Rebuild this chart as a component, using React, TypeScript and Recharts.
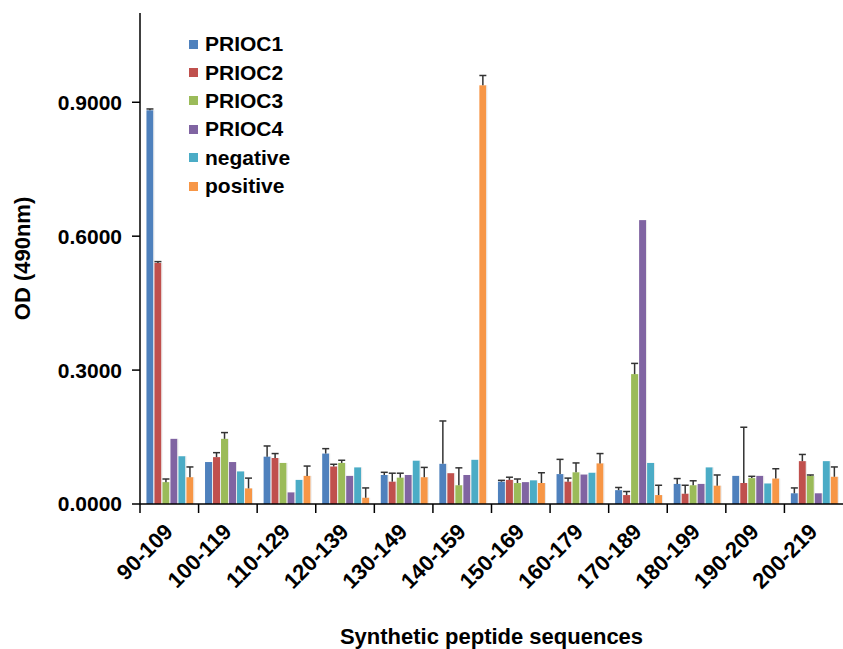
import { Bar, BarChart, Legend, XAxis, YAxis, Label } from "recharts";

const categories = ["90-109", "100-119", "110-129", "120-139", "130-149", "140-159", "150-169", "160-179", "170-189", "180-199", "190-209", "200-219"];

const prioc1 = [0.882, 0.094, 0.106, 0.113, 0.065, 0.09, 0.05, 0.067, 0.031, 0.045, 0.063, 0.024];
const prioc1Err = [0.003, 0, 0.024, 0.011, 0.006, 0.096, 0.003, 0.033, 0.006, 0.012, 0, 0.012];
const prioc2 = [0.54, 0.105, 0.103, 0.084, 0.05, 0.069, 0.054, 0.05, 0.02, 0.023, 0.047, 0.096];
const prioc2Err = [0.003, 0.01, 0.01, 0.005, 0.019, 0, 0.006, 0.008, 0.008, 0.019, 0.125, 0.015];
const prioc3 = [0.049, 0.146, 0.092, 0.092, 0.059, 0.042, 0.047, 0.071, 0.291, 0.042, 0.058, 0.063];
const prioc3Err = [0.007, 0.014, 0, 0.006, 0.01, 0.039, 0.009, 0.021, 0.024, 0.01, 0.004, 0.002];
const prioc4 = [0.146, 0.094, 0.026, 0.063, 0.065, 0.065, 0.049, 0.066, 0.636, 0.045, 0.063, 0.024];
const prioc4Err = [0, 0, 0, 0, 0, 0, 0, 0, 0, 0, 0, 0];
const negative = [0.107, 0.073, 0.054, 0.082, 0.097, 0.099, 0.053, 0.07, 0.092, 0.082, 0.046, 0.096];
const negativeErr = [0, 0, 0, 0, 0, 0, 0, 0, 0, 0, 0, 0];
const positive = [0.06, 0.035, 0.063, 0.014, 0.06, 0.938, 0.047, 0.091, 0.02, 0.041, 0.057, 0.061];
const positiveErr = [0.023, 0.023, 0.022, 0.022, 0.022, 0.022, 0.023, 0.022, 0.022, 0.024, 0.022, 0.022];

const yTicks = [0, 0.3, 0.6, 0.9];

const series = [
  { key: "PRIOC1", values: prioc1, err: prioc1Err, color: "#4F81BD" },
  { key: "PRIOC2", values: prioc2, err: prioc2Err, color: "#C0504D" },
  { key: "PRIOC3", values: prioc3, err: prioc3Err, color: "#9BBB59" },
  { key: "PRIOC4", values: prioc4, err: prioc4Err, color: "#8064A2" },
  { key: "negative", values: negative, err: negativeErr, color: "#4BACC6" },
  { key: "positive", values: positive, err: positiveErr, color: "#F79646" },
];

const data = categories.map((name, i) => {
  const row: any = { name };
  series.forEach((s) => (row[s.key] = s.values[i]));
  return row;
});

const FONT = "'Liberation Sans', Arial, sans-serif";

// bar rect plus a one-sided (upward) error whisker, scaled from the bar's own height
const BarWithErr = (props: any) => {
  const { x, y, width, height, fill, value, err } = props;
  const v = Array.isArray(value) ? value[1] - value[0] : value;
  const px = v ? height / v : 0;
  const cx = x + width / 2;
  const top = y - err * px;
  return (
    <g>
      <rect x={x} y={y} width={width} height={height} fill={fill} />
      <rect x={x + width} y={y} width={1} height={height} fill="#e8e8e8" />
      {err > 0 && (
        <g stroke="#333" strokeWidth={1.5}>
          <line x1={cx} y1={y} x2={cx} y2={top} />
          <line x1={cx - 3.5} y1={top} x2={cx + 3.5} y2={top} />
        </g>
      )}
    </g>
  );
};

const XTick = (props: any) => {
  const { x, y, payload } = props;
  const half = payload && payload.offset ? payload.offset : 29.3;
  const tx = x + 5;
  const ty = y + 21;
  return (
    <g>
      <line x1={x - half} y1={y - 8} x2={x - half} y2={y + 1} stroke="#000" strokeWidth={1.5} />
      <text
        x={tx}
        y={ty}
        textAnchor="end"
        transform={`rotate(-45, ${tx}, ${ty})`}
        fontFamily={FONT}
        fontWeight="bold"
        fontSize={22}
        fill="#000"
      >
        {payload.value}
      </text>
    </g>
  );
};

const LegendBox = () => (
  <div style={{ fontFamily: FONT, fontWeight: "bold", fontSize: 21, color: "#000" }}>
    {series.map((s) => (
      <div key={s.key} style={{ display: "flex", alignItems: "center", height: 28.4 }}>
        <span style={{ width: 9, height: 9, background: s.color, display: "inline-block", marginRight: 7 }} />
        <span>{s.key}</span>
      </div>
    ))}
  </div>
);

export default function App() {
  return (
    <div style={{ position: "absolute", left: 0, top: 0, width: 843, height: 649, overflow: "hidden", background: "#fff" }}>
      <BarChart
        width={843}
        height={649}
        data={data}
        margin={{ top: 13, right: 0, left: 0, bottom: 0 }}
        barCategoryGap="11%"
        barGap={1}
      >
        <XAxis
          dataKey="name"
          height={145}
          tick={<XTick />}
          tickLine={false}
          axisLine={{ stroke: "#000", strokeWidth: 1.5 }}
          interval={0}
        >
          <Label
            value="Synthetic peptide sequences"
            position="insideBottom"
            offset={5}
            style={{ fontFamily: FONT, fontWeight: "bold", fontSize: 22, fill: "#000" }}
          />
        </XAxis>
        <YAxis
          width={140}
          domain={[0, 1.1]}
          ticks={yTicks}
          tickFormatter={(v: number) => v.toFixed(4)}
          tickSize={8}
          tickMargin={10}
          tick={{ fontFamily: FONT, fontWeight: "bold", fontSize: 21, fill: "#000" }}
          tickLine={{ stroke: "#000", strokeWidth: 1.5 }}
          axisLine={{ stroke: "#000", strokeWidth: 1.5 }}
        >
          <Label
            value="OD (490nm)"
            angle={-90}
            position="insideLeft"
            offset={22}
            style={{ fontFamily: FONT, fontWeight: "bold", fontSize: 22, fill: "#000", textAnchor: "middle" }}
          />
        </YAxis>
        <Legend
          layout="vertical"
          align="center"
          verticalAlign="middle"
          wrapperStyle={{ left: 189, top: 30, width: 200, height: 180 }}
          content={<LegendBox />}
        />
        {series.map((s) => (
          <Bar
            key={s.key}
            dataKey={s.key}
            fill={s.color}
            isAnimationActive={false}
            shape={(p: any) => <BarWithErr {...p} err={s.err[p.index]} />}
          />
        ))}
      </BarChart>
    </div>
  );
}
